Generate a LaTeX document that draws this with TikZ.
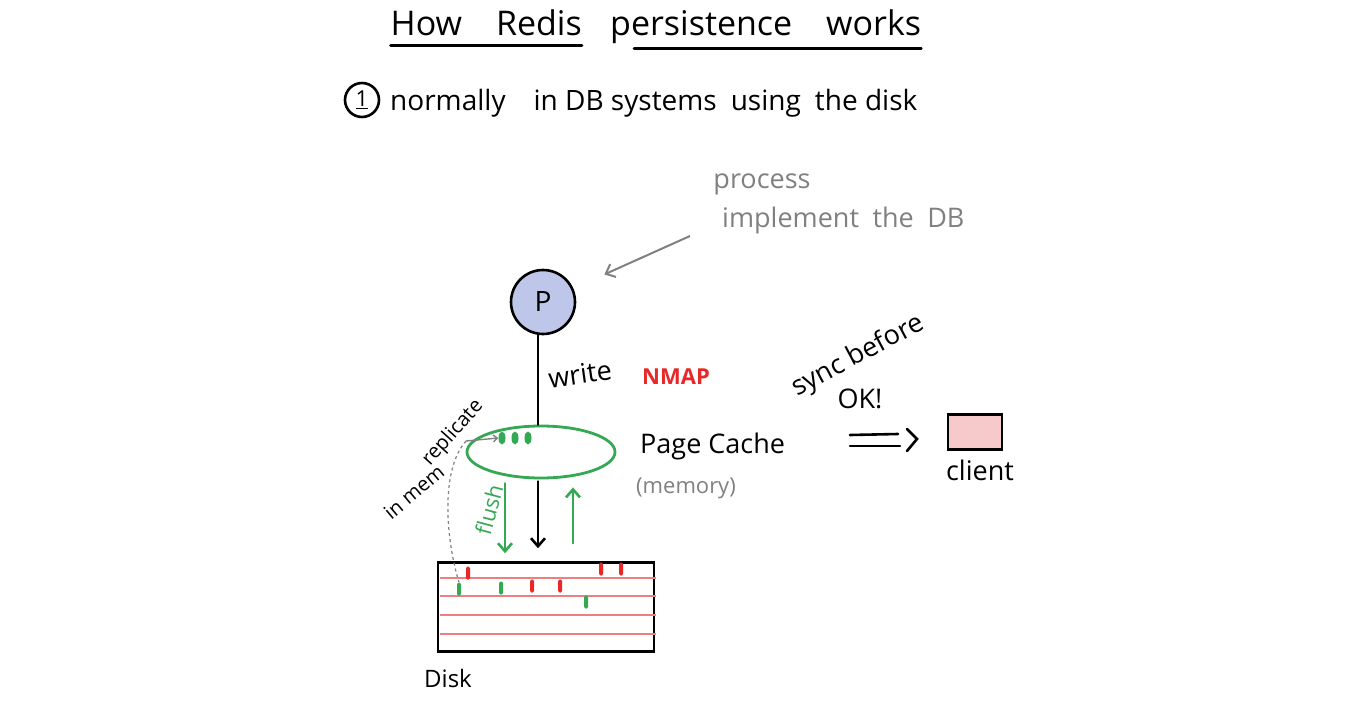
\documentclass[tikz,border=0pt]{standalone}
\usepackage{fontspec}
\setmainfont{Open Sans}
\usetikzlibrary{arrows.meta,positioning,shapes.geometric}
\definecolor{inkgray}{RGB}{128,128,128}
\definecolor{cachegreen}{RGB}{52,168,83}
\definecolor{mapred}{RGB}{232,40,40}
\definecolor{trackred}{RGB}{236,128,128}
\definecolor{procblue}{RGB}{190,198,234}
\definecolor{clientpink}{RGB}{242,178,180}
\tikzset{
  ink/.style={line width=2.6pt, line cap=round},
  notetext/.style={text=inkgray, font=\fontsize{27}{29}\selectfont, inner sep=0pt},
  bigtext/.style={font=\fontsize{27}{29}\selectfont, inner sep=0pt},
  notearrow/.style={draw=inkgray, line width=2pt, -{Straight Barb[length=8pt,width=14pt]}},
  downarrow/.style={ink, -{Straight Barb[length=8pt,width=14pt]}},
  tickmark/.style={minimum width=4pt, minimum height=13pt, inner sep=0pt, rounded corners=1.5pt},
  cachedot/.style={ellipse, fill=cachegreen, minimum width=7pt, minimum height=13pt, inner sep=0pt},
  track/.style={draw=trackred, line width=2.6pt}
}

\begin{document}
\begin{tikzpicture}[x=1pt,y=-1pt]
  \useasboundingbox (0,0) rectangle (1366,725);

  % Title, underlined in two parts.
  \node[bigtext, font=\fontsize{34}{36}\selectfont, anchor=base east] (howredis) at (582,36) {How\quad Redis};
  \node[bigtext, font=\fontsize{34}{36}\selectfont, anchor=base west] (persist) at (610,36) {persistence\quad works};
  \draw[ink] ([yshift=-9pt]howredis.south west) -- ([yshift=-9pt]howredis.south east);
  \draw[ink] ([xshift=24pt,yshift=-4pt]persist.south west) -- ([yshift=-4pt]persist.south east);

  % Numbered heading.
  \node[circle, draw, ink, minimum size=34pt, inner sep=0pt, font=\fontsize{22}{24}\selectfont] (one) at (362,100) {\underline{1}};
  \node[bigtext, font=\fontsize{28}{30}\selectfont, anchor=west] (normal) at (390,103) {normally\quad in DB systems\enspace using\enspace the disk};

  % Gray note on the process.
  \node[notetext] (procnote) at (762,184) {process};
  \node[notetext, anchor=west] (implnote) at (722,220) {implement\enspace the\enspace DB};
  \coordinate (notefoot) at (690,236);

  % Process and page cache.
  \node[circle, draw, ink, fill=procblue, minimum size=64pt, font=\fontsize{28}{30}\selectfont] (P) at (543,302) {P};
  \draw[notearrow] (notefoot) -- (P) [shorten >=34pt];
  \node[ellipse, draw=cachegreen, line width=2.8pt, minimum width=148pt, minimum height=52pt] (cache) at (541,452) {};
  \draw[ink] ([xshift=-5pt]P.south) -- ([xshift=-5pt]P.south |- cache.north);
  \node[bigtext, rotate=8] (writelbl) at (580,374) {write};
  \node[bigtext, text=mapred, font=\bfseries\fontsize{22}{24}\selectfont] (nmap) at (676,377) {NMAP};
  \node[bigtext, anchor=west] (pagecache) at (640,446) {Page Cache};
  \node[notetext, anchor=west, font=\fontsize{22}{24}\selectfont] (memory) at (636,488) {(memory)};

  % Dirty pages in the cache.
  \foreach \n/\x in {1/502,2/515,3/528}
    \node[cachedot] (dot\n) at (\x,438) {};

  % Disk with its tracks and blocks.
  \node[draw, ink, minimum width=216pt, minimum height=89pt, inner sep=0pt] (disk) at (546,607) {};
  \foreach \y in {578,596,615,634}
    \draw[track] (440,\y) -- (656,\y);
  \foreach \n/\x/\y in {1/468/573,2/532/586,3/560/586,4/601/569,5/621/569}
    \node[tickmark, fill=mapred] (red\n) at (\x,\y) {};
  \foreach \n/\x/\y in {1/459/589,2/501/588,3/586/602}
    \node[tickmark, fill=cachegreen] (green\n) at (\x,\y) {};
  \node[bigtext, anchor=west, font=\fontsize{24}{26}\selectfont] (disklbl) at (424,678) {Disk};

  % Flush, read and write paths between cache and disk.
  \draw[downarrow, draw=cachegreen] ([xshift=-36pt]cache.south) -- ([xshift=-36pt]cache.south |- disk.north) [shorten <=4pt, shorten >=8pt];
  \draw[downarrow] ([xshift=-3pt]cache.south) -- ([xshift=-3pt]cache.south |- disk.north) [shorten <=2pt, shorten >=13pt];
  \draw[downarrow, draw=cachegreen] ([xshift=32pt]cache.south |- disk.north) -- ([xshift=32pt]cache.south) [shorten <=18pt, shorten >=8pt];
  \node[bigtext, text=cachegreen, rotate=75, font=\fontsize{22}{24}\selectfont] (flushlbl) at (489,510) {flush};

  % Replication in memory.
  \node[bigtext, rotate=40, font=\fontsize{20}{22}\selectfont] (inmem) at (414,492) {in mem};
  \node[bigtext, rotate=48, font=\fontsize{20}{22}\selectfont] (replic) at (453,433) {replicate};
  \coordinate (repfoot) at (466,441);
  \draw[notearrow, line width=1.4pt, -{Straight Barb[length=4pt,width=7pt]}] (repfoot) -- (dot1.west);
  \draw[draw=inkgray, line width=1.2pt, dashed] (repfoot) .. controls (440,470) and (446,540) .. (green1.north);

  % Sync before acknowledging the client.
  \node[bigtext, rotate=28] (syncbefore) at (858,356) {sync before};
  \node[bigtext] (oklbl) at (860,399) {OK!};
  \node[draw, ink, fill=clientpink!70, minimum width=54pt, minimum height=35pt] (clientbox) at (975,432) {};
  \node[bigtext] (clientlbl) at (980,470) {client};
  \coordinate (okfoot) at (850,440);
  \draw[ink] (okfoot) ++(0,-5) -- ++(48,-1);
  \draw[ink] (okfoot) ++(0,6) -- ++(50,0);
  \draw[ink] (okfoot) ++(57,-11) -- ++(10,10) -- ++(-10,12);

\end{tikzpicture}
\end{document}
